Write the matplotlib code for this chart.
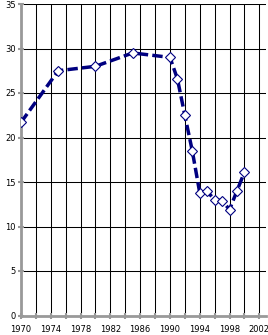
import matplotlib.pyplot as plt
import numpy as np

years = [1970, 1975, 1980, 1985, 1990, 1991, 1992, 1993, 1994, 1995,
         1996, 1997, 1998, 1999, 2000]
values = [21.7, 27.5, 28.0, 29.5, 29.0, 26.6, 22.5, 18.5, 13.8, 13.95,
          13.0, 12.9, 11.9, 14.0, 16.1]

fig = plt.figure(figsize=(2.68, 3.35), dpi=100)
ax = fig.add_axes([21 / 268, 1 - 315.5 / 335, 245 / 268, 311.5 / 335])

ax.plot(years, values, color='#000080', lw=2.5, ls=(0, (3, 1.2)),
        marker='D', ms=4.8, mfc='white', mec='#000080', mew=0.8, zorder=3)

ax.set_xlim(1970, 2002.9)
ax.set_ylim(0, 35)
ax.set_xticks(np.arange(1970, 2003, 2))
ax.set_xticklabels([str(y) if (y - 1970) % 4 == 0 else '' for y in range(1970, 2003, 2)])
ax.set_yticks(np.arange(0, 36, 5))
ax.grid(True, color='black', lw=0.75)
ax.set_axisbelow(True)

for s in ['top', 'right']:
    ax.spines[s].set_visible(False)
for s in ['left', 'bottom']:
    ax.spines[s].set_color('#999999')
    ax.spines[s].set_linewidth(2)
ax.tick_params(colors='#999999', length=4, width=1.5, direction='inout',
               labelcolor='black', labelsize=6, pad=2)
ax.tick_params(axis='x', pad=5)

fig.savefig('out.png', dpi=100)
